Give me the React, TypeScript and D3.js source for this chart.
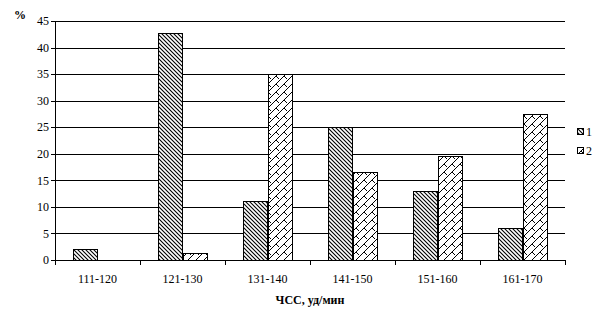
import React from "react";
import * as d3 from "d3";

const categories = ["111-120", "121-130", "131-140", "141-150", "151-160", "161-170"];
const seriesNames = ["1", "2"];
const series1 = [2, 42.7, 11.2, 25, 13, 6];
const series2 = [0, 1.3, 35, 16.5, 19.6, 27.4];
const yTicks = [0, 5, 10, 15, 20, 25, 30, 35, 40, 45];
const yLabel = "%";
const xLabel = "ЧСС, уд/мин";

const W = 604;
const H = 322;
const left = 55;
const right = 565;
const top = 21;
const bottom = 260;
const font = "'Liberation Serif', 'Times New Roman', serif";

export default function App() {
  const x = d3.scaleBand<string>().domain(categories).range([left, right]).padding(0);
  const xs = d3
    .scaleBand<string>()
    .domain(seriesNames)
    .range([0, x.bandwidth()])
    .paddingInner(0)
    .paddingOuter(0.75);
  const y = d3.scaleLinear().domain([0, 45]).range([bottom, top]);
  const data = [series1, series2];
  const fills = ["url(#pat1)", "url(#pat2)"];
  const boundaries = categories.map((c) => x(c) as number).concat([right]);

  return (
    <svg
      width={W}
      height={H}
      style={{ position: "absolute", left: 0, top: 0, background: "#fff" }}
      fontFamily={font}
    >
      <defs>
        <pattern id="pat1" patternUnits="userSpaceOnUse" width={4} height={4}>
          <rect width={4} height={4} fill="#fff" />
          <path d="M-1,-1 L5,5 M-1,3 L1,5 M3,-1 L5,1" stroke="#000" strokeWidth={1.1} />
        </pattern>
        <pattern id="pat2" patternUnits="userSpaceOnUse" width={8} height={8}>
          <rect width={8} height={8} fill="#fff" />
          <path
            d="M-1,9 L9,-1 M-1,1 L1,-1 M7,9 L9,7 M4,4 L7,7"
            stroke="#000"
            strokeWidth={1}
          />
        </pattern>
      </defs>
      <rect width={W} height={H} fill="#fff" />
      {yTicks.map((t) => (
        <line
          key={"g" + t}
          x1={left - 4}
          x2={right}
          y1={Math.round(y(t)) + 0.5}
          y2={Math.round(y(t)) + 0.5}
          stroke="#000"
          strokeWidth={1}
        />
      ))}
      {yTicks.map((t) => (
        <text
          key={"yl" + t}
          x={left - 6}
          y={y(t)}
          dy="0.35em"
          textAnchor="end"
          fontSize={12}
          fill="#000"
        >
          {t}
        </text>
      ))}
      {data.map((vals, si) =>
        vals.map((v, ci) =>
          v > 0 ? (
            <rect
              key={"b" + si + "-" + ci}
              x={Math.round((x(categories[ci]) as number) + (xs(seriesNames[si]) as number)) + 0.5}
              y={Math.round(y(v)) + 0.5}
              width={Math.round(xs.bandwidth())}
              height={Math.round(y(0)) - Math.round(y(v))}
              fill={fills[si]}
              stroke="#000"
              strokeWidth={1}
            />
          ) : null
        )
      )}
      <line x1={left + 0.5} x2={left + 0.5} y1={top} y2={bottom + 1} stroke="#000" />
      <line x1={left} x2={right + 1} y1={bottom + 0.5} y2={bottom + 0.5} stroke="#000" />
      {boundaries.map((b, i) => (
        <line
          key={"xt" + i}
          x1={Math.round(b) + 0.5}
          x2={Math.round(b) + 0.5}
          y1={bottom}
          y2={bottom + 5}
          stroke="#000"
        />
      ))}
      {categories.map((c) => (
        <text
          key={"xl" + c}
          x={(x(c) as number) + x.bandwidth() / 2}
          y={283}
          textAnchor="middle"
          fontSize={12}
          fill="#000"
        >
          {c}
        </text>
      ))}
      <text x={14} y={19} fontSize={12} fontWeight="bold" fill="#000">
        {yLabel}
      </text>
      <text x={310} y={304} textAnchor="middle" fontSize={12} fontWeight="bold" fill="#000">
        {xLabel}
      </text>
      {seriesNames.map((s, i) => (
        <g key={"lg" + s} transform={`translate(577, ${128 + i * 19})`}>
          <rect x={0.5} y={0.5} width={6} height={6} fill={fills[i]} stroke="#000" />
          <text x={9} y={7.5} fontSize={12} fill="#000">
            {s}
          </text>
        </g>
      ))}
    </svg>
  );
}
